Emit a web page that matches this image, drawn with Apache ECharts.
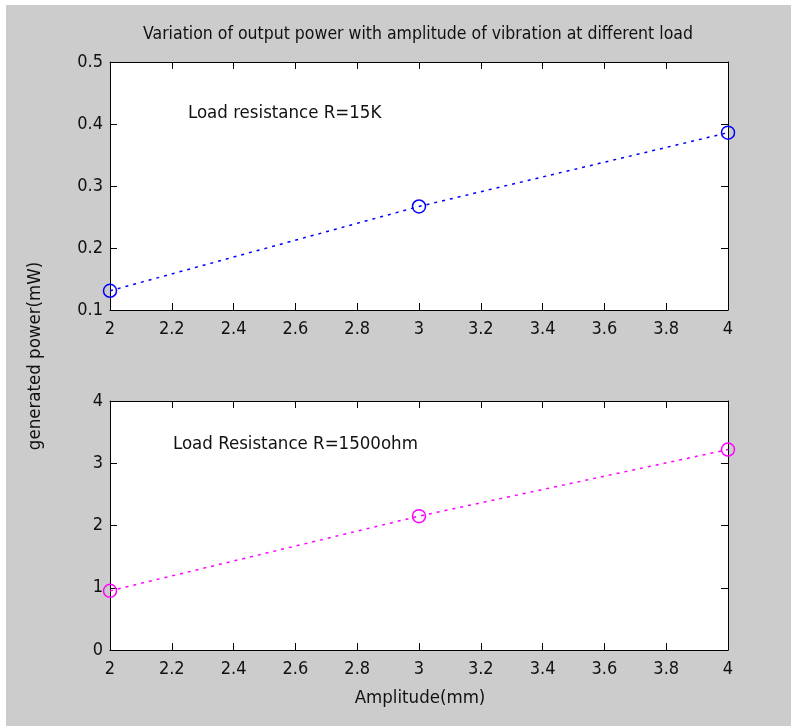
<!DOCTYPE html>
<html><head><meta charset="utf-8">
<script src="https://cdn.jsdelivr.net/npm/echarts@6/dist/echarts.min.js"></script>
<style>html,body{margin:0;padding:0;background:#fff}#c{width:791px;height:726px}</style>
</head><body><div id="c"></div>
<script>
var amplitude = [2, 3, 4];
var power15K = [0.131, 0.267, 0.386];
var power1500 = [0.95, 2.15, 3.22];
var xTicks = ['2','2.2','2.4','2.6','2.8','3','3.2','3.4','3.6','3.8','4'];
var yTicksTop = ['0.1','0.2','0.3','0.4','0.5'];
var yTicksBot = ['0','1','2','3','4'];
var titleText = 'Variation of output power with amplitude of vibration at different load';
var label1 = 'Load resistance R=15K';
var label2 = 'Load Resistance R=1500ohm';

var FONT = '"Liberation Sans Narrow", "DejaVu Sans Condensed", "Liberation Sans", sans-serif';
var chart = echarts.init(document.getElementById('c'));
function xa(gi, pos, labels){
  return {type:'value', gridIndex:gi, position:pos, min:2, max:4, interval:0.2,
    axisLine:{show:true, onZero:false, lineStyle:{color:'#000', width:1}},
    axisTick:{show:true, inside:true, length:7, lineStyle:{color:'#000'}},
    splitLine:{show:false},
    axisLabel:{show:labels, color:'#111', fontFamily:FONT, fontSize:18, margin:10,
      formatter:function(v){var i=Math.round((v-2)/0.2); return xTicks[i]||'';}}};
}
function ya(gi, pos, labels, min, max, iv, arr){
  return {type:'value', gridIndex:gi, position:pos, min:min, max:max, interval:iv,
    axisLine:{show:true, onZero:false, lineStyle:{color:'#000', width:1}},
    axisTick:{show:true, inside:true, length:7, lineStyle:{color:'#000'}},
    splitLine:{show:false},
    axisLabel:{show:labels, color:'#111', fontFamily:FONT, fontSize:18, margin:7,
      formatter:function(v){var i=Math.round((v-min)/iv); return arr[i]||'';}}};
}
chart.setOption({
  backgroundColor:'#cccccc',
  animation:false,
  title:{text:titleText, left:413, top:20, textAlign:'center',
    textStyle:{fontFamily:FONT, fontSize:17.5, fontWeight:'normal', color:'#111'}},
  grid:[
    {left:110, top:62, width:618, height:248, show:true, backgroundColor:'#fff', borderWidth:0},
    {left:110, top:401, width:618, height:249, show:true, backgroundColor:'#fff', borderWidth:0}
  ],
  xAxis:[xa(0,'bottom',true), xa(0,'top',false), xa(1,'bottom',true), xa(1,'top',false)],
  yAxis:[
    ya(0,'left',true,0.1,0.5,0.1,yTicksTop), ya(0,'right',false,0.1,0.5,0.1,yTicksTop),
    ya(1,'left',true,0,4,1,yTicksBot), ya(1,'right',false,0,4,1,yTicksBot)
  ],
  series:[
    {type:'line', xAxisIndex:0, yAxisIndex:0, data:amplitude.map(function(x,i){return [x,power15K[i]];}),
      symbol:'circle', symbolSize:13, showSymbol:true,
      itemStyle:{color:'none', borderColor:'#0000ff', borderWidth:1.5},
      lineStyle:{color:'#0000ff', width:1.5, type:[3,5]}, clip:false},
    {type:'line', xAxisIndex:2, yAxisIndex:2, data:amplitude.map(function(x,i){return [x,power1500[i]];}),
      symbol:'circle', symbolSize:13, showSymbol:true,
      itemStyle:{color:'none', borderColor:'#ff00ff', borderWidth:1.5},
      lineStyle:{color:'#ff00ff', width:1.5, type:[3,5]}, clip:false}
  ],
  graphic:[
    {type:'rect', shape:{x:0,y:0,width:6,height:726}, style:{fill:'#fff'}, silent:true},
    {type:'rect', shape:{x:0,y:0,width:791,height:5}, style:{fill:'#fff'}, silent:true},
    {type:'text', x:188, y:113, style:{text:label1, font:'18.5px '+FONT, fill:'#111', textVerticalAlign:'middle'}},
    {type:'text', x:173, y:444, style:{text:label2, font:'18.5px '+FONT, fill:'#111', textVerticalAlign:'middle'}},
    {type:'text', x:420, y:698, style:{text:'Amplitude(mm)', font:'18.5px '+FONT, fill:'#111', textAlign:'center', textVerticalAlign:'middle'}},
    {type:'text', x:35, y:356, rotation:Math.PI/2, style:{text:'generated power(mW)', font:'18.5px '+FONT, fill:'#111', textAlign:'center', textVerticalAlign:'middle'}}
  ]
});
</script></body></html>
